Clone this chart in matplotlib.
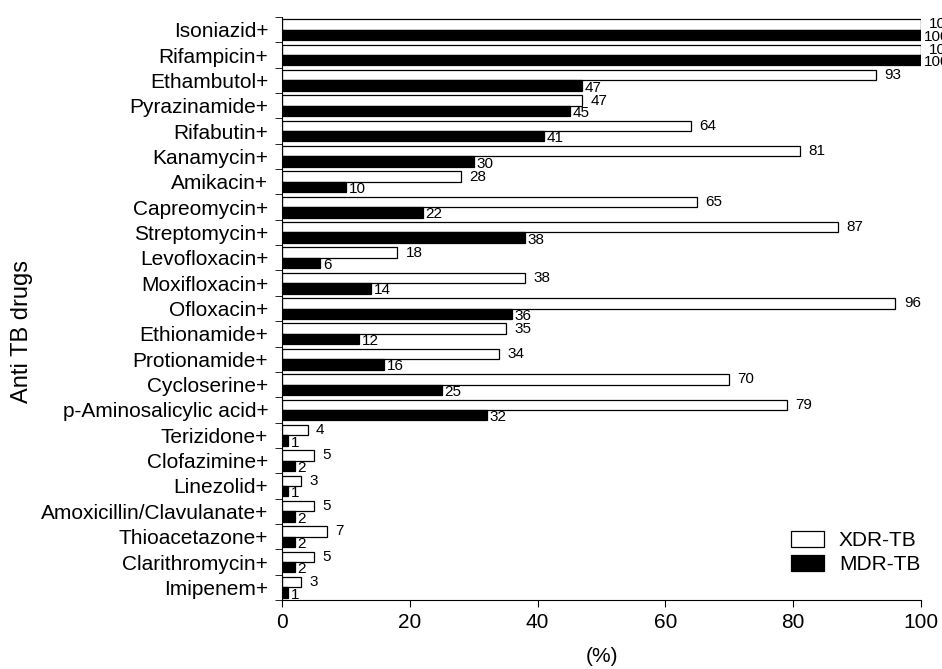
import matplotlib.pyplot as plt
import numpy as np

plt.rcParams['font.family'] = ['Liberation Sans', 'DejaVu Sans']

drugs = ['Isoniazid+', 'Rifampicin+', 'Ethambutol+', 'Pyrazinamide+', 'Rifabutin+',
         'Kanamycin+', 'Amikacin+', 'Capreomycin+', 'Streptomycin+', 'Levofloxacin+',
         'Moxifloxacin+', 'Ofloxacin+', 'Ethionamide+', 'Protionamide+', 'Cycloserine+',
         'p-Aminosalicylic acid+', 'Terizidone+', 'Clofazimine+', 'Linezolid+',
         'Amoxicillin/Clavulanate+', 'Thioacetazone+', 'Clarithromycin+', 'Imipenem+']
xdr = [100, 100, 93, 47, 64, 81, 28, 65, 87, 18, 38, 96, 35, 34, 70, 79, 4, 5, 3, 5, 7, 5, 3]
mdr = [100, 100, 47, 45, 41, 30, 10, 22, 38, 6, 14, 36, 12, 16, 25, 32, 1, 2, 1, 2, 2, 2, 1]

n = len(drugs)
y = np.arange(n)[::-1]  # first drug at top
h = 0.41

fig = plt.figure(figsize=(9.42, 6.69), dpi=100)
ax = fig.add_axes([0.2994, 0.1031, 0.6783, 0.8715])

ax.barh(y + h / 2, xdr, height=h, color='white', edgecolor='black', linewidth=0.9, label='XDR-TB')
ax.barh(y - h / 2, mdr, height=h, color='black', edgecolor='black', linewidth=0.9, label='MDR-TB')

for yi, v in zip(y, xdr):
    ax.annotate(str(v), (v, yi + h / 2), xytext=(6, 0), textcoords='offset points',
                va='center', ha='left', fontsize=11, annotation_clip=False)
for yi, v in zip(y, mdr):
    ax.annotate(str(v), (v, yi - h / 2), xytext=(2, -1.5), textcoords='offset points',
                va='center', ha='left', fontsize=11, annotation_clip=False)

ax.set_xlim(0, 100)
ax.set_ylim(-0.5, n - 0.5)
ax.set_xticks(np.arange(0, 101, 20))
ax.set_yticks(y)
ax.set_yticklabels(drugs, fontsize=15)
ax.set_yticks(np.arange(n + 1) - 0.5, minor=True)
ax.tick_params(axis='y', which='major', length=0, pad=10)
ax.tick_params(axis='y', which='minor', length=5, direction='out')
ax.tick_params(axis='x', labelsize=15, length=5, direction='out', pad=4)
for s in ['top', 'right']:
    ax.spines[s].set_visible(False)

ax.set_xlabel('(%)', fontsize=15, labelpad=11)
ax.set_ylabel('Anti TB drugs', fontsize=17)
ax.yaxis.set_label_coords(-0.39, 0.46)

ax.legend(loc='lower right', frameon=False, fontsize=15, handlelength=1.6,
          handleheight=0.8, handletextpad=0.7, labelspacing=0.25,
          bbox_to_anchor=(1.012, 0.03), borderaxespad=0.0)

fig.savefig('out.png', dpi=100)
